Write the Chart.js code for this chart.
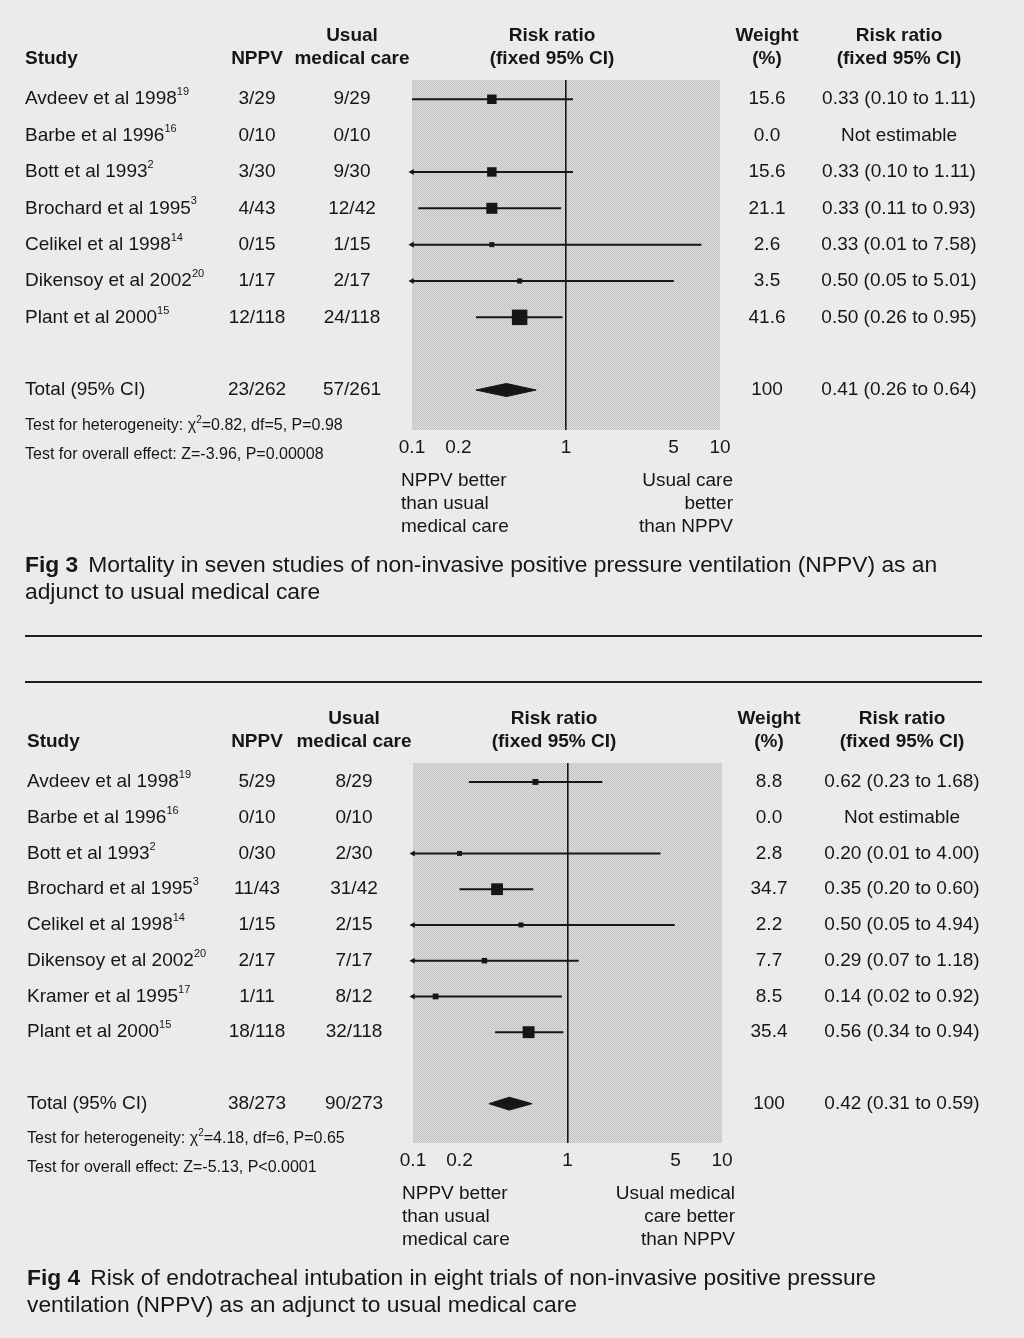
<!DOCTYPE html>
<html>
<head>
<meta charset="utf-8">
<script src="https://cdn.jsdelivr.net/npm/chart.js@4.4.1/dist/chart.umd.min.js"></script>
<style>
  body { margin: 0; background: #ebebea; }
  #page { position: relative; width: 1024px; height: 1338px; overflow: hidden; }
  canvas { position: absolute; left: 0; }
  .rule { position: absolute; left: 25px; width: 957px; height: 2px; background: #1e1e1e; }
</style>
</head>
<body>
<div id="page">
  <canvas id="fig3" width="1024" height="620" style="top:0"></canvas>
  <div class="rule" style="top:635px"></div>
  <div class="rule" style="top:681px"></div>
  <canvas id="fig4" width="1024" height="648" style="top:690px"></canvas>
</div>
<script>
// Fig 3: mortality
const fig3Studies = ["Avdeev et al 1998", "Barbe et al 1996", "Bott et al 1993", "Brochard et al 1995",
  "Celikel et al 1998", "Dikensoy et al 2002", "Plant et al 2000"];
const fig3Refs = ["19", "16", "2", "3", "14", "20", "15"];
const fig3Nppv = ["3/29", "0/10", "3/30", "4/43", "0/15", "1/17", "12/118"];
const fig3Usual = ["9/29", "0/10", "9/30", "12/42", "1/15", "2/17", "24/118"];
const fig3Weight = [15.6, 0.0, 15.6, 21.1, 2.6, 3.5, 41.6];
const fig3Rr = [0.33, null, 0.33, 0.33, 0.33, 0.50, 0.50];
const fig3Lo = [0.10, null, 0.098, 0.11, 0.01, 0.05, 0.26]; // Bott is drawn truncated (arrow)
const fig3Hi = [1.11, null, 1.11, 0.93, 7.58, 5.01, 0.95];
const fig3Total = ["23/262", "57/261", "100"];
const fig3TotalCi = [0.41, 0.26, 0.64];
const fig3Tests = [["0.82", "5", "P=0.98"], ["-3.96", "P=0.00008"]];

// Fig 4: endotracheal intubation
const fig4Studies = ["Avdeev et al 1998", "Barbe et al 1996", "Bott et al 1993", "Brochard et al 1995",
  "Celikel et al 1998", "Dikensoy et al 2002", "Kramer et al 1995", "Plant et al 2000"];
const fig4Refs = ["19", "16", "2", "3", "14", "20", "17", "15"];
const fig4Nppv = ["5/29", "0/10", "0/30", "11/43", "1/15", "2/17", "1/11", "18/118"];
const fig4Usual = ["8/29", "0/10", "2/30", "31/42", "2/15", "7/17", "8/12", "32/118"];
const fig4Weight = [8.8, 0.0, 2.8, 34.7, 2.2, 7.7, 8.5, 35.4];
const fig4Rr = [0.62, null, 0.20, 0.35, 0.50, 0.29, 0.14, 0.56];
const fig4Lo = [0.23, null, 0.01, 0.20, 0.05, 0.07, 0.02, 0.34];
const fig4Hi = [1.68, null, 4.00, 0.60, 4.94, 1.18, 0.92, 0.94];
const fig4Total = ["38/273", "90/273", "100"];
const fig4TotalCi = [0.42, 0.31, 0.59];
const fig4Tests = [["4.18", "6", "P=0.65"], ["-5.13", "P<0.0001"]];

const xTicks = [0.1, 0.2, 1, 5, 10];
const X_MIN = 0.1, X_MAX = 10;

const FONT = '"Liberation Sans", Arial, Helvetica, sans-serif';
const INK = "#161616";

function stipple(ctx) {
  const c = document.createElement("canvas");
  c.width = 2; c.height = 2;
  const g = c.getContext("2d");
  g.fillStyle = "#dcdcdb"; g.fillRect(0, 0, 2, 2);
  g.fillStyle = "#c4c4c3"; g.fillRect(0, 0, 1, 1); g.fillRect(1, 1, 1, 1);
  return ctx.createPattern(c, "repeat");
}

function txt(ctx, s, x, y, align, size, bold) {
  ctx.font = (bold ? "bold " : "") + size + "px " + FONT;
  ctx.textAlign = align;
  ctx.textBaseline = "middle";
  ctx.fillStyle = INK;
  ctx.fillText(s, x, y);
}

// left-aligned text made of plain and superscript pieces
function rich(ctx, parts, x, y, size) {
  ctx.textAlign = "left";
  ctx.textBaseline = "middle";
  ctx.fillStyle = INK;
  parts.forEach(p => {
    const sz = p.sup ? Math.round(size * 0.6) : size;
    ctx.font = (p.bold ? "bold " : "") + sz + "px " + FONT;
    ctx.fillText(p.t, x, p.sup ? y - size * 0.36 : y);
    x += ctx.measureText(p.t).width + (p.gap || 0);
  });
}

function makeForest(id, fig) {
  const n = fig.studies.length;
  const totalRow = n + 1;
  const valid = fig.rr.map((v, i) => v !== null ? i : -1).filter(i => i >= 0);

  const ciSets = valid.map(i => ({
    type: "line",
    data: [{ x: Math.max(fig.lo[i], X_MIN), y: i }, { x: fig.hi[i], y: i }],
    borderColor: INK,
    borderWidth: 2,
    pointStyle: "triangle",
    rotation: -90,
    pointRadius: [fig.lo[i] < X_MIN ? 3.5 : 0, 0],
    pointBackgroundColor: INK,
    pointBorderWidth: 0,
    clip: false
  }));

  const squares = {
    type: "scatter",
    data: valid.map(i => ({ x: fig.rr[i], y: i })),
    pointStyle: "rect",
    pointRadius: valid.map(i => Math.max(5, fig.k * Math.sqrt(fig.weight[i])) / Math.SQRT2),
    pointBackgroundColor: INK,
    pointBorderWidth: 0
  };

  const h = 0.18;
  const [tr, tl, th] = fig.totalCi;
  const diamond = {
    type: "line",
    data: [{ x: tl, y: totalRow }, { x: tr, y: totalRow - h }, { x: th, y: totalRow },
           { x: tr, y: totalRow + h }, { x: tl, y: totalRow }],
    borderColor: INK,
    backgroundColor: INK,
    borderWidth: 1,
    pointRadius: 0,
    fill: "shape"
  };

  const textPlugin = {
    id: "forestText",
    beforeDraw(chart) {
      const { ctx, chartArea: a } = chart;
      ctx.save();
      ctx.fillStyle = stipple(ctx);
      ctx.fillRect(a.left, a.top, a.right - a.left, a.bottom - a.top);
      ctx.restore();
    },
    afterDraw(chart) {
      const { ctx, chartArea: a } = chart;
      const ys = chart.scales.y;
      const col = fig.cols;
      ctx.save();
      // headers
      const h1 = a.top - 44, h2 = a.top - 21;
      txt(ctx, "Study", col.study, h2, "left", 19, true);
      txt(ctx, "NPPV", col.nppv, h2, "center", 19, true);
      txt(ctx, "Usual", col.usual, h1, "center", 19, true);
      txt(ctx, "medical care", col.usual, h2, "center", 19, true);
      txt(ctx, "Risk ratio", col.plot, h1, "center", 19, true);
      txt(ctx, "(fixed 95% CI)", col.plot, h2, "center", 19, true);
      txt(ctx, "Weight", col.weight, h1, "center", 19, true);
      txt(ctx, "(%)", col.weight, h2, "center", 19, true);
      txt(ctx, "Risk ratio", col.rr, h1, "center", 19, true);
      txt(ctx, "(fixed 95% CI)", col.rr, h2, "center", 19, true);
      // study rows
      for (let i = 0; i < n; i++) {
        const y = ys.getPixelForValue(i);
        rich(ctx, [{ t: fig.studies[i] }, { t: fig.refs[i], sup: true }], col.study, y, 19);
        txt(ctx, fig.nppv[i], col.nppv, y, "center", 19);
        txt(ctx, fig.usual[i], col.usual, y, "center", 19);
        txt(ctx, fig.weight[i].toFixed(1), col.weight, y, "center", 19);
        const s = fig.rr[i] === null ? "Not estimable" :
          fig.rr[i].toFixed(2) + " (" + fig.lo[i].toFixed(2) + " to " + fig.hi[i].toFixed(2) + ")";
        txt(ctx, s, col.rr, y, "center", 19);
      }
      // total row
      const yt = ys.getPixelForValue(totalRow);
      txt(ctx, "Total (95% CI)", col.study, yt, "left", 19);
      txt(ctx, fig.total[0], col.nppv, yt, "center", 19);
      txt(ctx, fig.total[1], col.usual, yt, "center", 19);
      txt(ctx, fig.total[2], col.weight, yt, "center", 19);
      txt(ctx, tr.toFixed(2) + " (" + tl.toFixed(2) + " to " + th.toFixed(2) + ")", col.rr, yt, "center", 19);
      // tests
      const t = fig.tests;
      rich(ctx, [{ t: "Test for heterogeneity: " }, { t: "\u03c7" }, { t: "2", sup: true },
        { t: "=" + t[0][0] + ", df=" + t[0][1] + ", " + t[0][2] }], col.study, a.bottom - 4, 16);
      rich(ctx, [{ t: "Test for overall effect: Z=" + t[1][0] + ", " + t[1][1] }], col.study, a.bottom + 25, 16);
      // direction labels
      const lx = a.left - 11, rx = a.right + 13;
      fig.leftLabel.forEach((s, j) => txt(ctx, s, lx, a.bottom + 51 + 23 * j, "left", 19));
      fig.rightLabel.forEach((s, j) => txt(ctx, s, rx, a.bottom + 51 + 23 * j, "right", 19));
      // caption
      rich(ctx, [{ t: fig.capNo, bold: true, gap: 10 }, { t: fig.caption[0] }], col.study, a.bottom + 136, 22.8);
      rich(ctx, [{ t: fig.caption[1] }], col.study, a.bottom + 163, 22.8);
      ctx.restore();
    }
  };

  const ctx = document.getElementById(id).getContext("2d");
  return new Chart(ctx, {
    data: { datasets: [...ciSets, squares, diamond] },
    options: {
      responsive: false,
      animation: false,
      events: [],
      layout: { autoPadding: false, padding: fig.pad },
      plugins: { legend: { display: false }, tooltip: { enabled: false } },
      scales: {
        x: {
          type: "logarithmic",
          min: X_MIN,
          max: X_MAX,
          afterBuildTicks: s => { s.ticks = xTicks.map(v => ({ value: v })); },
          afterFit: s => { s.height = 30; },
          ticks: {
            autoSkip: false,
            maxRotation: 0,
            padding: 6,
            color: INK,
            font: { family: FONT, size: 19 },
            callback: v => String(v)
          },
          grid: {
            drawTicks: false,
            lineWidth: 1.6,
            color: c => (c.tick && c.tick.value === 1 ? INK : "rgba(0,0,0,0)")
          },
          border: { display: false }
        },
        y: {
          type: "linear",
          display: false,
          reverse: true,
          min: -0.53,
          max: totalRow + 1.1
        }
      }
    },
    plugins: [textPlugin]
  });
}

makeForest("fig3", {
  studies: fig3Studies, refs: fig3Refs, nppv: fig3Nppv, usual: fig3Usual, weight: fig3Weight,
  rr: fig3Rr, lo: fig3Lo, hi: fig3Hi, total: fig3Total, totalCi: fig3TotalCi, tests: fig3Tests,
  k: 2.4,
  pad: { left: 412, right: 304, top: 80, bottom: 160 },
  cols: { study: 25, nppv: 257, usual: 352, plot: 552, weight: 767, rr: 899 },
  leftLabel: ["NPPV better", "than usual", "medical care"],
  rightLabel: ["Usual care", "better", "than NPPV"],
  capNo: "Fig 3",
  caption: ["Mortality in seven studies of non-invasive positive pressure ventilation (NPPV) as an",
            "adjunct to usual medical care"]
});

makeForest("fig4", {
  studies: fig4Studies, refs: fig4Refs, nppv: fig4Nppv, usual: fig4Usual, weight: fig4Weight,
  rr: fig4Rr, lo: fig4Lo, hi: fig4Hi, total: fig4Total, totalCi: fig4TotalCi, tests: fig4Tests,
  k: 2.0,
  pad: { left: 413, right: 302, top: 73, bottom: 165 },
  cols: { study: 27, nppv: 257, usual: 354, plot: 554, weight: 769, rr: 902 },
  leftLabel: ["NPPV better", "than usual", "medical care"],
  rightLabel: ["Usual medical", "care better", "than NPPV"],
  capNo: "Fig 4",
  caption: ["Risk of endotracheal intubation in eight trials of non-invasive positive pressure",
            "ventilation (NPPV) as an adjunct to usual medical care"]
});
</script>
</body>
</html>
